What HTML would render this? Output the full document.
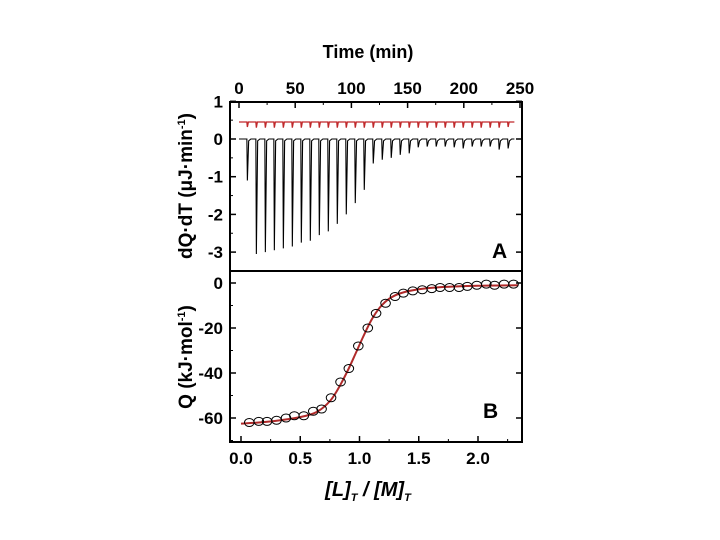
<!DOCTYPE html>
<html><head><meta charset="utf-8"><style>
html,body{margin:0;padding:0;background:#fff;width:720px;height:540px;overflow:hidden}
svg text{font-family:"Liberation Sans",Arial,sans-serif;font-weight:bold}
</style></head><body>
<svg id="chart" width="720" height="540" xmlns="http://www.w3.org/2000/svg"></svg>
<script>
const injTimes=[7,15,23,31,39,47,55,63,71,79,87,95,103,111,119,127,135,143,151,159,167,175,183,191,199,207,215,223,231,239];
const injDepth=[-1.1,-3.05,-3.0,-2.95,-2.9,-2.85,-2.75,-2.7,-2.55,-2.45,-2.25,-2.0,-1.7,-1.35,-0.65,-0.55,-0.5,-0.42,-0.38,-0.22,-0.2,-0.2,-0.2,-0.22,-0.25,-0.2,-0.2,-0.2,-0.28,-0.25];
const refDepth=[0.32,0.3,0.3,0.3,0.3,0.3,0.3,0.3,0.3,0.3,0.3,0.3,0.3,0.3,0.3,0.3,0.3,0.3,0.3,0.3,0.3,0.3,0.3,0.3,0.3,0.3,0.3,0.3,0.3,0.32];
const qX=[0.07,0.15,0.22,0.30,0.38,0.45,0.53,0.61,0.68,0.76,0.84,0.91,0.99,1.07,1.14,1.22,1.30,1.37,1.45,1.53,1.61,1.68,1.76,1.84,1.91,1.99,2.07,2.14,2.22,2.30];
const qY=[-62,-61.5,-61.5,-61,-60,-59,-59,-57,-56,-51,-44,-38,-28,-20,-13.5,-9,-6,-4.5,-3.5,-3,-2.5,-2,-2,-2,-1.5,-1,-0.5,-1,-0.5,-0.5];
const fitX=[0.0,0.2,0.4,0.55,0.65,0.75,0.82,0.9,0.97,1.03,1.1,1.17,1.25,1.35,1.5,1.7,2.0,2.34];
const fitY=[-62.5,-61.8,-60.5,-59,-57,-52.5,-47,-39,-31,-24,-16.5,-11,-7,-4.5,-2.8,-1.8,-1.2,-1.0];
const xTopTicks=[0,50,100,150,200,250];
const yTopTicks=[1,0,-1,-2,-3];
const xBotTicks=[0.0,0.5,1.0,1.5,2.0];
const yBotTicks=[0,-20,-40,-60];

const NS='http://www.w3.org/2000/svg';
const svg=document.getElementById('chart');
function mk(tag,attrs,parent){const e=document.createElementNS(NS,tag);for(const k in attrs)e.setAttribute(k,attrs[k]);(parent||svg).appendChild(e);return e;}
const L=230,R=522,T=102,M=271,B=442;
const tx=t=>239+t*1.124;
const ty=v=>139-v*37.7;
const bx=v=>241+v*118.5;
const by=v=>283-v*2.25;

let f=mk('rect',{x:L,y:T,width:R-L,height:B-T,fill:'none',stroke:'#000','stroke-width':2});

let d=mk('line',{x1:L,x2:R,y1:M,y2:M,stroke:'#000','stroke-width':2});


xTopTicks.forEach(t=>{
 mk('line',{x1:tx(t),x2:tx(t),y1:T,y2:T+6,stroke:'#000','stroke-width':1.5});
 if(t<250) mk('line',{x1:tx(t+25),x2:tx(t+25),y1:T,y2:T+3,stroke:'#000','stroke-width':1});
 const e=mk('text',{x:tx(t),y:94,'font-size':17,'text-anchor':'middle'});e.textContent=t;
 
});
yTopTicks.forEach(v=>{
 mk('line',{x1:L,x2:L+6,y1:ty(v),y2:ty(v),stroke:'#000','stroke-width':1.5});
 mk('line',{x1:R,x2:R-6,y1:ty(v),y2:ty(v),stroke:'#000','stroke-width':1.5});
 if(v>-3) mk('line',{x1:L,x2:L+3,y1:ty(v-0.5),y2:ty(v-0.5),stroke:'#000','stroke-width':1});
 const e=mk('text',{x:223,y:ty(v)+6,'font-size':17,'text-anchor':'end'});e.textContent=v;
 
});
xBotTicks.forEach(v=>{
 mk('line',{x1:bx(v),x2:bx(v),y1:B,y2:B-6,stroke:'#000','stroke-width':1.5});
 mk('line',{x1:bx(v+0.25),x2:bx(v+0.25),y1:B,y2:B-3,stroke:'#000','stroke-width':1});
 const e=mk('text',{x:bx(v),y:464,'font-size':17,'text-anchor':'middle'});e.textContent=v.toFixed(1);
 
});
yBotTicks.forEach(v=>{
 mk('line',{x1:L,x2:L+6,y1:by(v),y2:by(v),stroke:'#000','stroke-width':1.5});
 mk('line',{x1:R,x2:R-6,y1:by(v),y2:by(v),stroke:'#000','stroke-width':1.5});
 mk('line',{x1:L,x2:L+3,y1:by(v-10),y2:by(v-10),stroke:'#000','stroke-width':1});
 const e=mk('text',{x:223,y:by(v)+6,'font-size':17,'text-anchor':'end'});e.textContent=v;
 
});

function txt(s,attrs,name){const e=mk('text',attrs);e.innerHTML=s;return e;}
txt('Time (min)',{x:368,y:58,'font-size':18,'text-anchor':'middle'},'x-top-axis-title');
txt('dQ·dT (μJ·min<tspan font-size="11" dy="-7">-1</tspan><tspan dy="7">)</tspan>',{transform:'translate(192,186) rotate(-90)','font-size':19,'text-anchor':'middle'},'y-top-axis-title');
txt('Q (kJ·mol<tspan font-size="11" dy="-7">-1</tspan><tspan dy="7">)</tspan>',{transform:'translate(192,357) rotate(-90)','font-size':19,'text-anchor':'middle'},'y-bottom-axis-title');
txt('[L]<tspan font-size="11" dy="5">T</tspan><tspan dy="-5"> / [M]</tspan><tspan font-size="11" dy="5">T</tspan>',{x:368,y:496,'font-size':20,'text-anchor':'middle','font-style':'italic'},'x-bottom-axis-title');
txt('A',{x:492,y:258,'font-size':21},'panel-a-label');
txt('B',{x:483,y:418,'font-size':21},'panel-b-label');

let p='M'+tx(0)+','+ty(0);
injTimes.forEach((t,i)=>{p+=' L'+tx(t)+','+ty(0)+' L'+(tx(t)+0.5)+','+ty(injDepth[i])+' L'+(tx(t)+1.8)+','+ty(-0.05)+' L'+(tx(t)+4)+','+ty(0);});
p+=' L'+tx(245)+','+ty(0);
let th=mk('path',{d:p,fill:'none',stroke:'#000','stroke-width':1.1});

let rp='M'+tx(0)+','+ty(0.45);
injTimes.forEach((t,i)=>{rp+=' L'+tx(t)+','+ty(0.45)+' L'+(tx(t)+0.5)+','+ty(refDepth[i])+' L'+(tx(t)+1.5)+','+ty(0.45);});
rp+=' L'+tx(245)+','+ty(0.45);
let rt=mk('path',{d:rp,fill:'none',stroke:'#c0282a','stroke-width':1.3});


// smooth fit via Catmull-Rom
const pts=fitX.map((x,i)=>[bx(x),by(fitY[i])]);
let fp='M'+pts[0][0]+','+pts[0][1];
for(let i=0;i<pts.length-1;i++){
 const p0=pts[Math.max(0,i-1)],p1=pts[i],p2=pts[i+1],p3=pts[Math.min(pts.length-1,i+2)];
 const c1=[p1[0]+(p2[0]-p0[0])/6,p1[1]+(p2[1]-p0[1])/6],c2=[p2[0]-(p3[0]-p1[0])/6,p2[1]-(p3[1]-p1[1])/6];
 fp+=' C'+c1+' '+c2+' '+p2;
}
let fc=mk('path',{d:fp,fill:'none',stroke:'#b02a2a','stroke-width':2});

qX.forEach((x,i)=>{
 const c=mk('ellipse',{cx:bx(x),cy:by(qY[i]),rx:4.8,ry:4,fill:'none',stroke:'#000','stroke-width':1});
 
});
</script>
</body></html>
